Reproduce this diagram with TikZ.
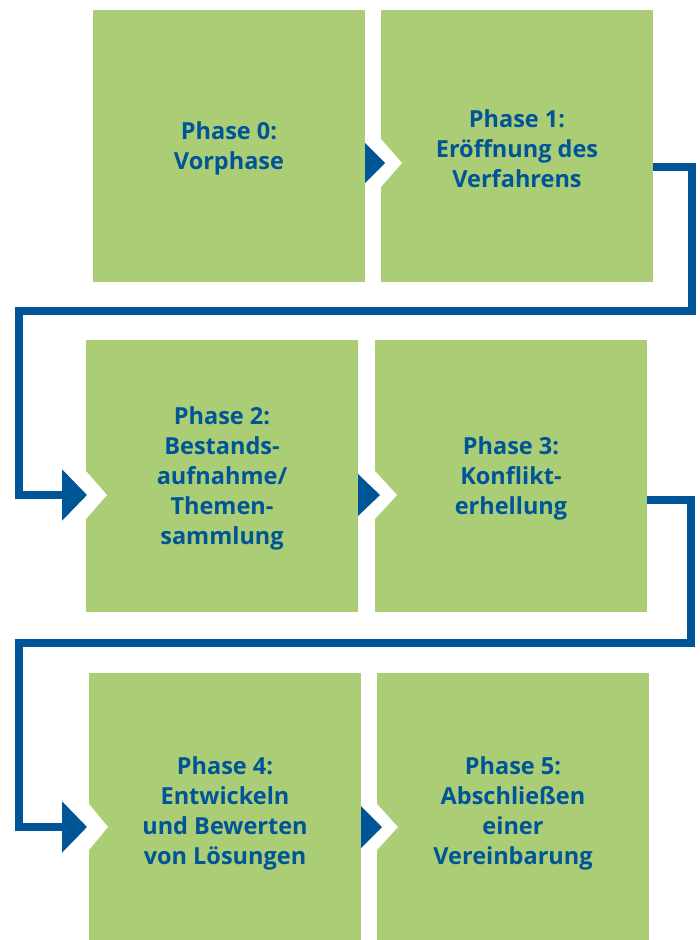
\documentclass[tikz,border=0pt]{standalone}
\usepackage{fontspec}
\setmainfont{Open Sans}
\usetikzlibrary{arrows.meta}
\definecolor{pgreen}{RGB}{170,205,118}
\definecolor{pblue}{RGB}{0,85,150}
\tikzset{
  box/.style={fill=pgreen, minimum width=272pt, minimum height=272pt, inner sep=0pt, outer sep=0pt},
  lbl/.style={text=pblue, font=\fontsize{23.5}{30}\selectfont\bfseries, align=center},
  conn/.style={draw=pblue, line width=8pt, line join=miter, -{Triangle[length=25pt,width=50pt]}},
  notch/.style={fill=white},
  tri/.style={fill=pblue},
}
\begin{document}
\begin{tikzpicture}[x=1pt,y=-1pt]
\useasboundingbox (0,0) rectangle (699,940);
\begin{scope}
\clip (0,0) rectangle (699,940);
% boxes
\node[box] (b0) at (229,146) {};
\node[box] (b1) at (517,146) {};
\node[box] (b2) at (222,476) {};
\node[box] (b3) at (511,476) {};
\node[box] (b4) at (225,809) {};
\node[box] (b5) at (513,809) {};
\end{scope}
% labels
\node[lbl] (t0) at (229,148) {Phase 0:\\Vorphase};
\node[lbl] (t1) at (517,149) {Phase 1:\\Eröffnung des\\Verfahrens};
\node[lbl] (t2) at (222,478) {Phase 2:\\Bestands-\\aufnahme/\\Themen-\\sammlung};
\node[lbl] (t3) at (511,478) {Phase 3:\\Konflikt-\\erhellung};
\node[lbl] (t4) at (225,813) {Phase 4:\\Entwickeln\\und Bewerten\\von Lösungen};
\node[lbl] (t5) at (513,813) {Phase 5:\\Abschließen\\einer\\Vereinbarung};
% notches
\fill[notch] (381,139) -- (402,163) -- (381,187) -- cycle;
\fill[notch] (86,471) -- (107,495) -- (86,519) -- cycle;
\fill[notch] (375,471) -- (397,495) -- (375,519) -- cycle;
\fill[notch] (89,804) -- (108,827) -- (89,850) -- cycle;
\fill[notch] (377,804) -- (398,827) -- (377,850) -- cycle;
% small arrows between boxes
\fill[tri] (365,143) -- (385,163) -- (365,183) -- cycle;
\fill[tri] (358,474) -- (380,495) -- (358,516) -- cycle;
\fill[tri] (361,806) -- (382,827) -- (361,848) -- cycle;
% connectors
\coordinate (r1) at (692,167);
\coordinate (r2) at (691,500);
\coordinate (e2) at (87,495);
\coordinate (e4) at (87,827);
\draw[conn] (b1.east |- r1) -- (r1) -- (692,311) -- (19,311) -- (19,495) -- (e2);
\draw[conn] (b3.east |- r2) -- (r2) -- (691,643) -- (19,643) -- (19,827) -- (e4);
\end{tikzpicture}
\end{document}
